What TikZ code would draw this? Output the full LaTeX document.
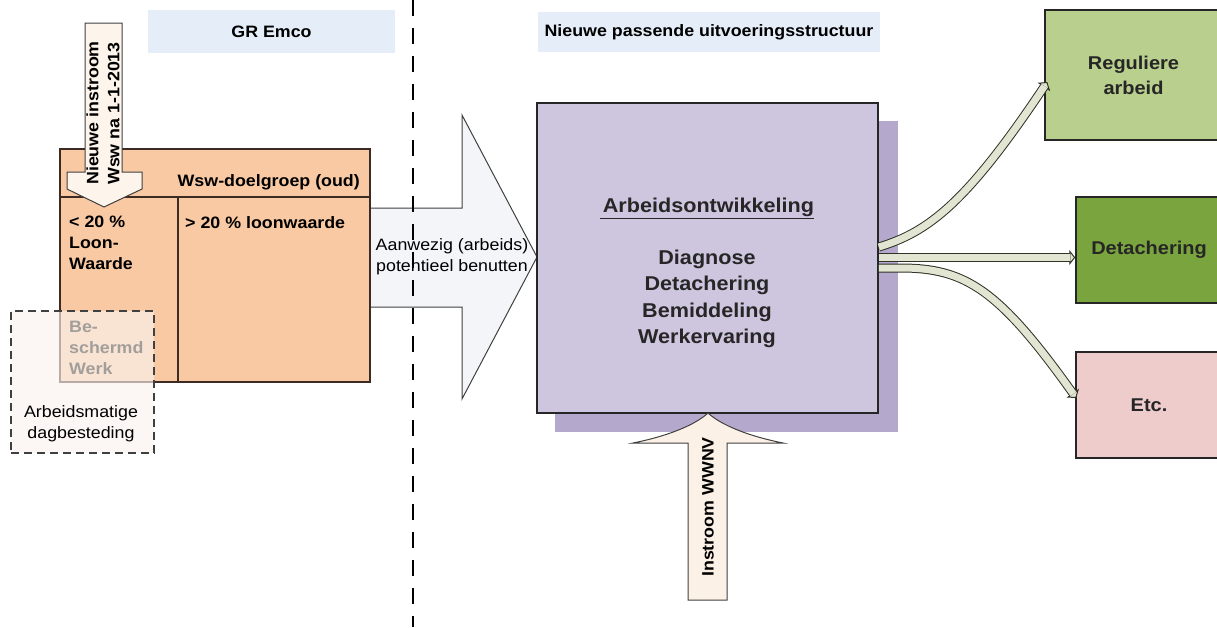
\documentclass[tikz,border=0pt]{standalone}
\usepackage{fontspec}
\setmainfont{Liberation Sans}[FakeStretch=1.08]
\usetikzlibrary{arrows.meta,calc}
\definecolor{labelblue}{HTML}{E5EDF8}
\definecolor{orangefill}{HTML}{F8C9A3}
\definecolor{wswborder}{HTML}{3B2B22}
\definecolor{bigarrowfill}{HTML}{F4F5F8}
\definecolor{downfill}{HTML}{FDF4EB}
\definecolor{purplefill}{HTML}{CEC6DF}
\definecolor{purpleshadow}{HTML}{B4A9CD}
\definecolor{upfill}{HTML}{FCF1E6}
\definecolor{reggreen}{HTML}{B9CF8D}
\definecolor{detgreen}{HTML}{7AA43E}
\definecolor{etcpink}{HTML}{EECCCC}
\definecolor{flowfill}{HTML}{E1E5D2}
\definecolor{flowborder}{HTML}{2E3326}
\definecolor{overlayfill}{HTML}{FAF3EE}
\newcommand\labfont{\fontsize{16.5}{21}\selectfont}
\newcommand\mbfont{\fontsize{20}{26.5}\selectfont}
\newcommand\rbfont{\fontsize{18.5}{25}\selectfont}
\tikzset{
  lbl/.style={fill=labelblue, inner sep=0pt, font=\bfseries\labfont},
  txt/.style={inner sep=0pt, font=\labfont},
  btxt/.style={inner sep=0pt, font=\bfseries\labfont},
  wswline/.style={draw=wswborder, line width=1.6pt},
  rbox/.style={draw=black!85, line width=1.5pt, inner sep=0pt, font=\bfseries\rbfont, align=center, text=black!85},
  flowout/.style={draw=flowborder, line width=9pt, -{Triangle[length=6pt,width=15pt,line width=1pt,fill=flowfill]}},
  flowin/.style={draw=flowfill, line width=7pt, shorten >=5pt},
  shapeline/.style={draw=black!75, line width=1pt},
}
\begin{document}
\begin{tikzpicture}[x=1pt,y=-1pt]
\useasboundingbox (0,0) rectangle (1217,627);
% header labels
\node[lbl, minimum width=247pt, minimum height=43pt] (gremco) at (271.5,31.5) {GR Emco};
\node[lbl, minimum width=342pt, minimum height=40pt] (nieuw) at (709,32) {Nieuwe passende uitvoeringsstructuur};
% big right arrow
\draw[shapeline, fill=bigarrowfill] (370,208) -- (462,208) -- (462,115) -- (537,257) -- (462,399) -- (462,307) -- (370,307) -- cycle;
\node[txt, align=center] (aanwezig) at (452,257) {Aanwezig (arbeids)\\potentieel benutten};
% orange Wsw box
\node[draw=wswborder, line width=1.8pt, fill=orangefill, minimum width=310pt, minimum height=233pt, inner sep=0pt] (wsw) at (215,265.5) {};
\coordinate (hl) at (60,197);
\coordinate (hr) at (370,197);
\coordinate (vt) at (178,197);
\draw[wswline] (hl) -- (hr);
\draw[wswline] (vt) -- (vt |- wsw.south);
\node[btxt, anchor=east] (wswhead) at (360,182) {Wsw-doelgroep (oud)};
\node[btxt, anchor=north west, align=left] (low) at (69,216) {<~20~\%\\Loon-\\Waarde};
\node[btxt, anchor=north west] (high) at (185,216) {>~20~\% loonwaarde};
\node[btxt, anchor=north west, align=left, text=black] (besch) at (69,321) {Be-\\schermd\\Werk};
% dashed overlay box
\node[draw=black!75, line width=1.2pt, dash pattern=on 8pt off 5pt, fill=overlayfill, fill opacity=0.65, minimum width=143pt, minimum height=142pt, inner sep=0pt] (dag) at (82.5,382) {};
\node[txt, align=center] (dagtext) at (81,424) {Arbeidsmatige\\dagbesteding};
% down arrow
\draw[shapeline, fill=downfill] (85,23) -- (122,23) -- (122,172) -- (142,172) -- (142,189) -- (104,207) -- (67,189) -- (67,172) -- (85,172) -- cycle;
\node[btxt, rotate=90, align=left] (instroomwsw) at (103,113) {Nieuwe instroom\\Wsw na 1-1-2013};
% main purple box
\fill[purpleshadow] (555,121) rectangle (898,432);
\node[draw=black!85, line width=1.6pt, fill=purplefill, minimum width=341pt, minimum height=310pt, inner sep=0pt] (main) at (707.5,258) {};
\node[inner sep=0pt, font=\bfseries\mbfont, align=center, text=black!85] (maintext) at (707,273) {\underline{\hspace{3pt}Arbeidsontwikkeling}\\[25.5pt]Diagnose\\Detachering\\Bemiddeling\\Werkervaring};
% up arrow
\draw[shapeline, fill=upfill] (688,600) -- (688,443) -- (633,443) .. controls (668,436) and (695,425) .. (708,413) .. controls (721,425) and (748,436) .. (783,443) -- (727,443) -- (727,600) -- cycle;
\node[btxt, rotate=90] (wwnv) at (708,507) {Instroom WWNV};
% right boxes
\node[rbox, fill=reggreen, minimum width=177pt, minimum height=130pt] (reg) at (1133.5,75) {Reguliere\\arbeid};
\node[rbox, fill=detgreen, minimum width=146pt, minimum height=106pt] (det) at (1149,250) {Detachering};
\node[rbox, fill=etcpink, minimum width=146pt, minimum height=106pt] (etc) at (1149,405) {Etc.};
% flows
\coordinate (s1) at ($(main.east)+(0,-11)$);
\coordinate (s2) at ($(main.east)+(0,-0.5)$);
\coordinate (s3) at ($(main.east)+(0,10)$);
\coordinate (e1) at ($(reg.west)+(3,7)$);
\coordinate (e2) at ($(det.west)+(0,7.5)$);
\coordinate (e3) at ($(etc.west)+(1,-7)$);
\draw[flowout] (s1) .. controls +(50,-15) and +(-80,120) .. (e1);
\draw[flowin] (s1) .. controls +(50,-15) and +(-80,120) .. (e1);
\draw[flowout] (s3) -- +(22,0) .. controls +(65,0) and +(-77,-108) .. (e3);
\draw[flowin] (s3) -- +(22,0) .. controls +(65,0) and +(-77,-108) .. (e3);
\draw[flowout] (s2) -- (e2);
\draw[flowin] (s2) -- (e2);
% dashed divider
\coordinate (dtop) at (413,0);
\coordinate (dbot) at (413,627);
\draw[line width=2.6pt, dash pattern=on 16pt off 12pt] (dtop) -- (dbot);
\end{tikzpicture}
\end{document}
